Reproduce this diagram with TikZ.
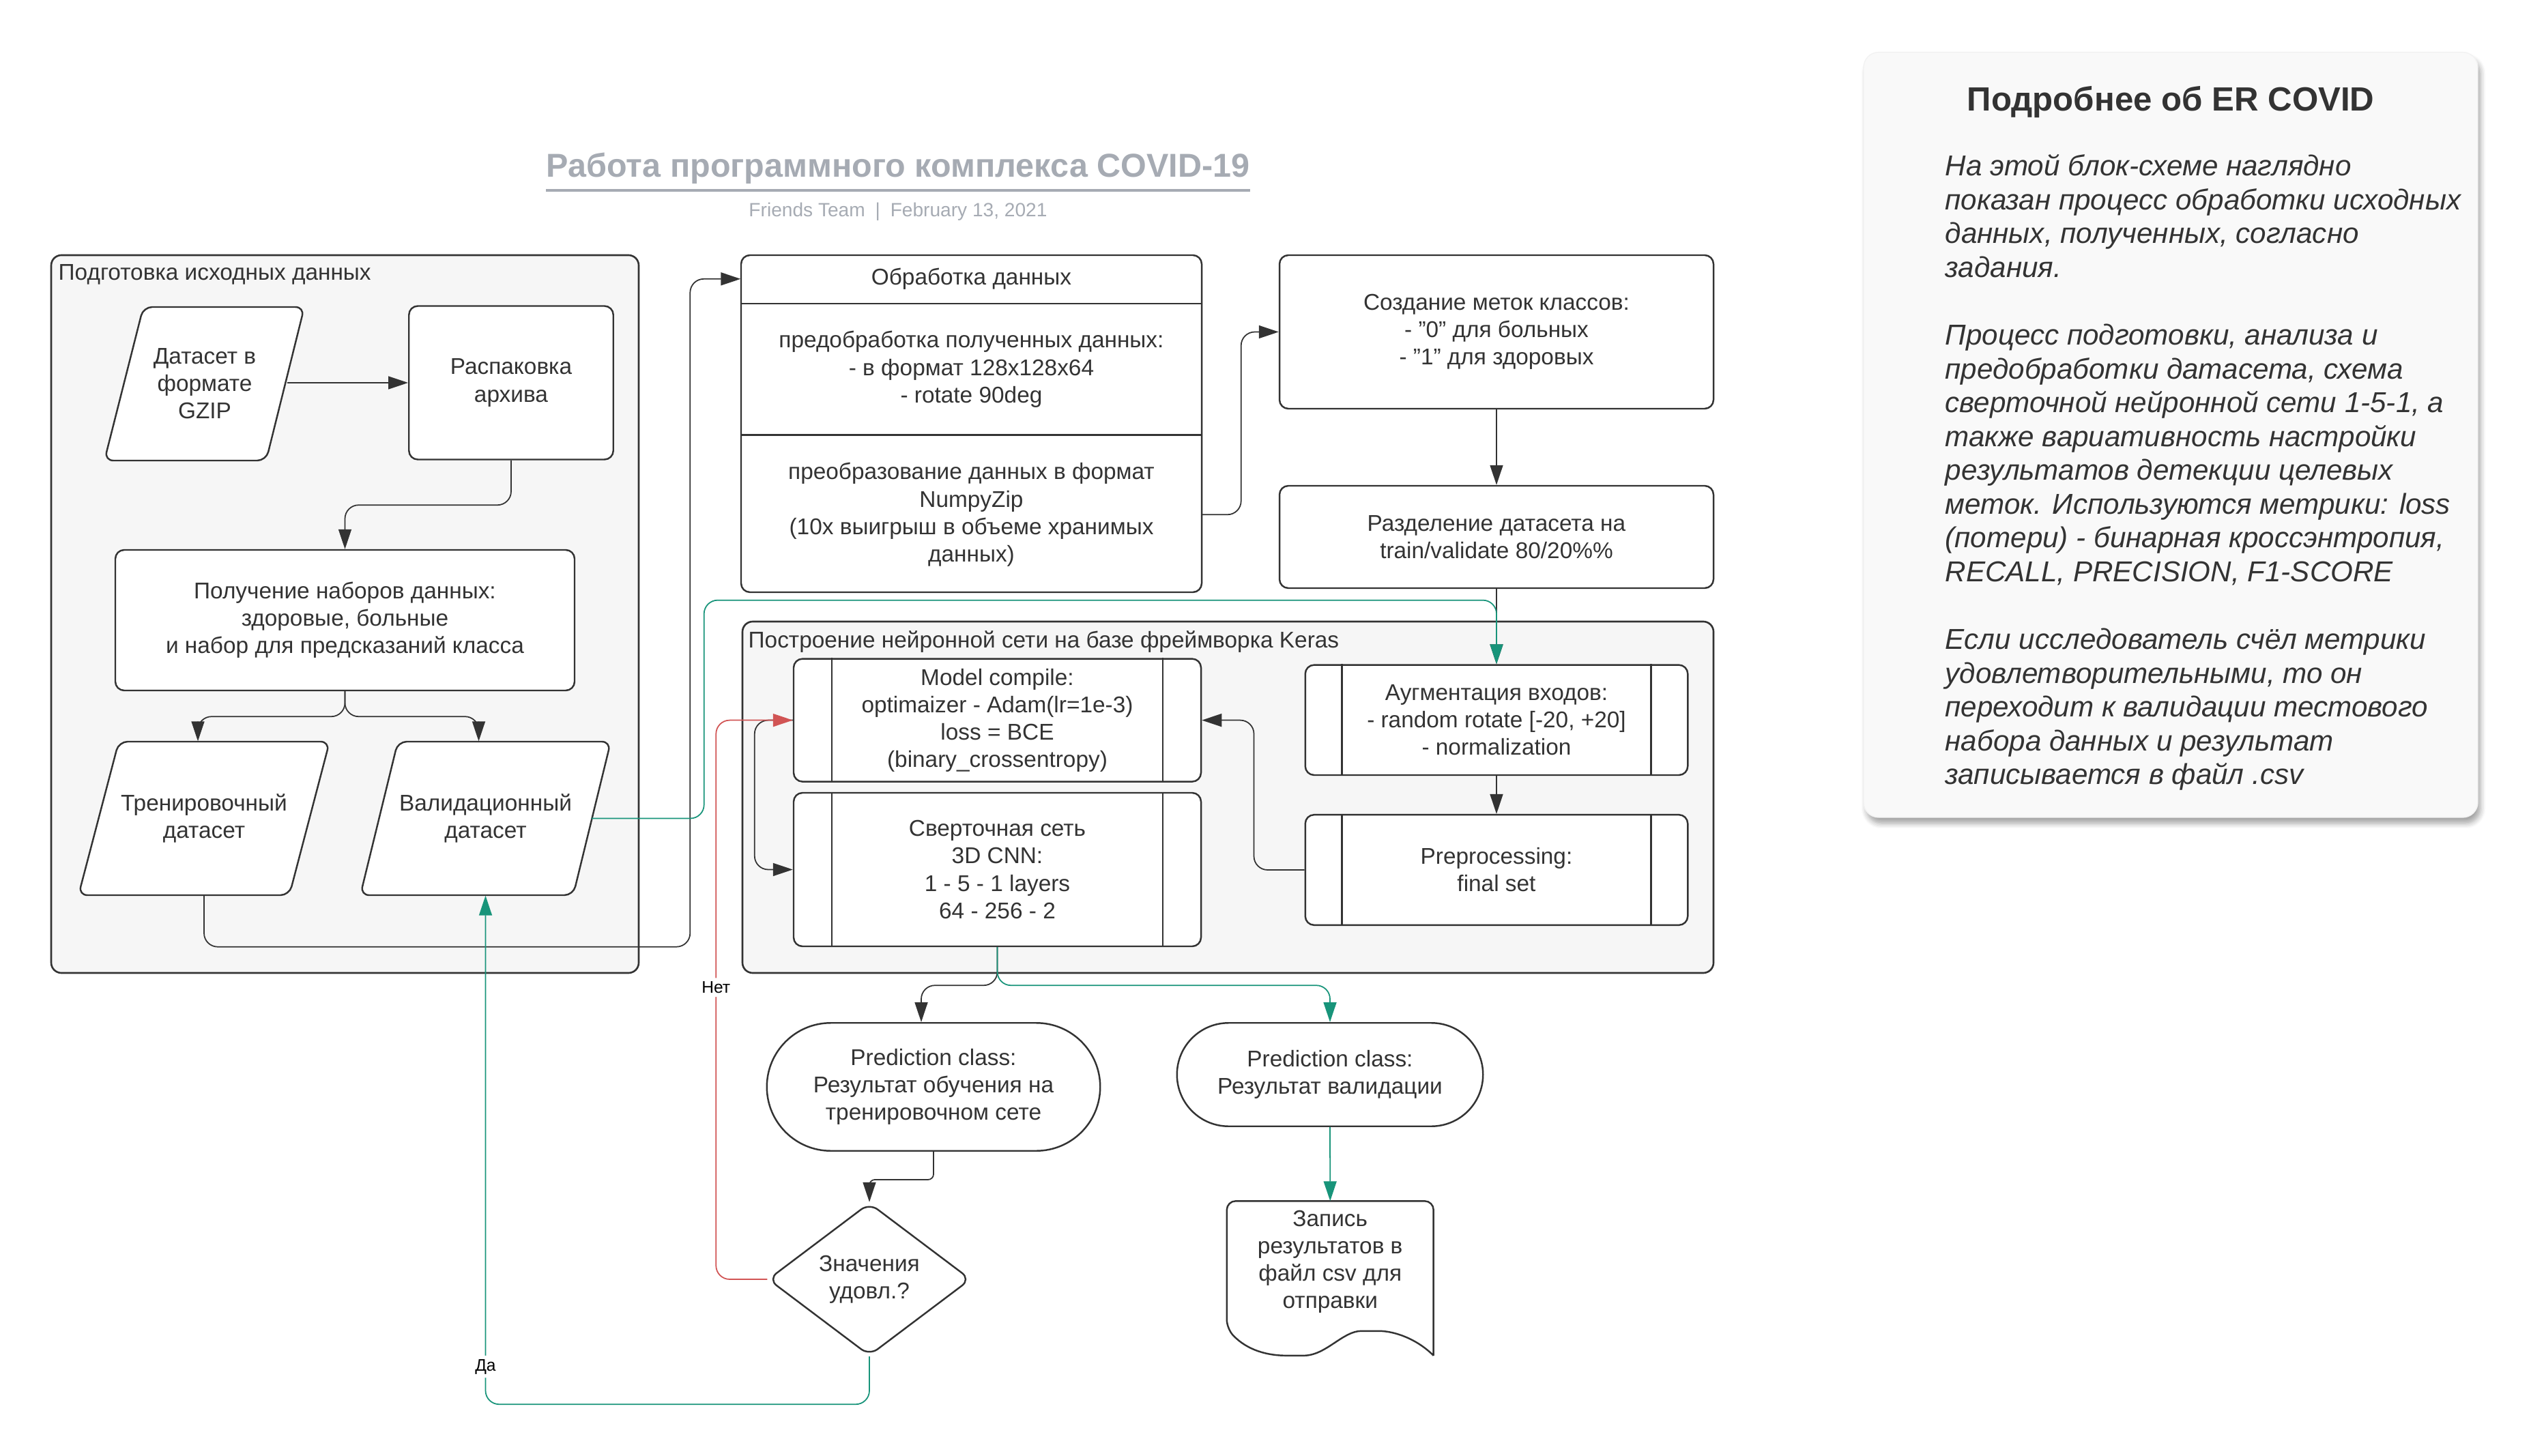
\documentclass[tikz,border=0pt]{standalone}
\usepackage{fontspec}
\setmainfont{Liberation Sans}
\usetikzlibrary{positioning, arrows.meta, shapes.geometric, shapes.misc, shadows.blur}
\definecolor{ink}{HTML}{333333}
\definecolor{lanegray}{HTML}{F6F6F6}
\definecolor{panelgray}{HTML}{F9F9F9}
\definecolor{titlegray}{HTML}{A6ABB3}
\definecolor{flowteal}{RGB}{24,148,122}
\definecolor{flowred}{RGB}{209,84,84}
\newcommand{\boxfont}{\fontsize{9.5}{11.4}\selectfont}

\begin{document}
\begin{tikzpicture}[
    lane/.style={draw=ink, line width=0.75pt, fill=lanegray, rounded corners=1.5mm, inner sep=0pt},
    lanelbl/.style={font=\boxfont, text=ink, inner sep=0pt, anchor=base west},
    stepbox/.style={draw=ink, line width=0.7pt, fill=white, rounded corners=1.3mm,
        align=center, font=\boxfont, text=ink, inner sep=0pt},
    txtbox/.style={align=center, font=\boxfont, text=ink, inner sep=0pt},
    pgram/.style={draw=ink, line width=0.7pt, fill=white, rounded corners=1.3mm},
    termbox/.style={draw=ink, line width=0.7pt, fill=white, rounded rectangle,
        align=center, font=\boxfont, text=ink, inner sep=0pt},
    decbox/.style={draw=ink, line width=0.7pt, fill=white, diamond, aspect=1.33,
        rounded corners=1.5mm, align=center, font=\boxfont, text=ink, inner sep=0pt},
    subline/.style={draw=ink, line width=0.7pt},
    flow/.style={draw=ink, line width=0.5pt, rounded corners=2mm,
        -{Triangle[length=2.9mm, width=1.9mm]}},
    tealflow/.style={flow, draw=flowteal},
    redflow/.style={flow, draw=flowred},
    yesno/.style={font=\fontsize{7}{8.4}\selectfont, text=black, fill=white, inner sep=1.5pt}
]
\useasboundingbox (0,0) rectangle (37.09,-21.34);

% Title
\node[font=\fontsize{13.8}{16}\selectfont\bfseries, text=titlegray, inner sep=0pt, anchor=base]
    (title) at (13.16,-2.60) {Работа программного комплекса COVID-19};
\draw[titlegray, line width=1.1pt]
    ([yshift=-0.19cm]title.base west) -- ([yshift=-0.19cm]title.base east);
\node[font=\fontsize{8}{10}\selectfont, text=titlegray, inner sep=0pt, anchor=base]
    (subtitle) at (13.16,-3.18) {Friends Team \hspace{2pt}|\hspace{2pt} February 13, 2021};

% Source data lane
\node[lane, minimum width=8.61cm, minimum height=10.52cm] (prepcont) at (5.055,-9.0) {};
\node[lanelbl] (preplbl) at (0.85,-4.11) {Подготовка исходных данных};

\draw[pgram] (1.53,-6.75) -- (3.90,-6.75) -- (4.46,-4.50) -- (2.10,-4.50) -- cycle;
\node[txtbox, minimum width=2.93cm, minimum height=2.25cm] (dsgzip) at (3.0,-5.625)
    {Датасет в\\формате\\GZIP};
\node[stepbox, minimum width=2.995cm, minimum height=2.25cm] (unpack) at (7.49,-5.61)
    {Распаковка\\архива};
\node[stepbox, minimum width=6.73cm, minimum height=2.06cm] (getdata) at (5.055,-9.09)
    {Получение наборов данных:\\здоровые, больные\\и набор для предсказаний класса};

\draw[pgram] (1.15,-13.12) -- (4.24,-13.12) -- (4.83,-10.87) -- (1.74,-10.87) -- cycle;
\node[txtbox, minimum width=3.68cm, minimum height=2.25cm] (train) at (2.99,-11.995)
    {Тренировочный\\датасет};
\draw[pgram] (5.28,-13.12) -- (8.40,-13.12) -- (8.95,-10.87) -- (5.83,-10.87) -- cycle;
\node[txtbox, minimum width=3.67cm, minimum height=2.25cm] (val) at (7.115,-11.995)
    {Валидационный\\датасет};

% Data processing
\node[stepbox, minimum width=6.75cm, minimum height=4.94cm] (procframe) at (14.235,-6.21) {};
\node[txtbox, minimum width=6.75cm, minimum height=0.707cm, anchor=north] (prochead)
    at (procframe.north) {Обработка данных};
\node[txtbox, minimum width=6.75cm, minimum height=1.913cm, below=0pt of prochead] (procprep)
    {предобработка полученных данных:\\- в формат 128x128x64\\- rotate 90deg};
\node[txtbox, minimum width=6.75cm, minimum height=2.32cm, below=0pt of procprep] (procconv)
    {преобразование данных в формат\\NumpyZip\\(10x выигрыш в объеме хранимых\\данных)};
\draw[subline] (prochead.south west) -- (prochead.south east);
\draw[subline] (procprep.south west) -- (procprep.south east);

\node[stepbox, minimum width=6.36cm, minimum height=2.25cm] (labels) at (21.93,-4.865)
    {Создание меток классов:\\- "0" для больных\\- "1" для здоровых};
\node[stepbox, minimum width=6.36cm, minimum height=1.50cm] (split) at (21.93,-7.87)
    {Разделение датасета на\\train/validate 80/20\%\%};

% Keras lane
\node[lane, minimum width=14.23cm, minimum height=5.15cm] (keras) at (17.995,-11.685) {};
\node[lanelbl] (keraslbl) at (10.96,-9.49) {Построение нейронной сети на базе фреймворка Keras};

\node[stepbox, minimum width=5.97cm, minimum height=1.80cm] (compile) at (14.615,-10.556)
    {Model compile:\\optimaizer - Adam(lr=1e-3)\\loss = BCE\\(binary\_crossentropy)};
\node[stepbox, minimum width=5.97cm, minimum height=2.25cm] (cnn) at (14.615,-12.745)
    {Сверточная сеть\\3D CNN:\\1 - 5 - 1 layers\\64 - 256 - 2};
\node[stepbox, minimum width=5.605cm, minimum height=1.614cm] (augm) at (21.93,-10.553)
    {Аугментация входов:\\- random rotate [-20, +20]\\- normalization};
\node[stepbox, minimum width=5.605cm, minimum height=1.617cm] (prep) at (21.93,-12.75)
    {Preprocessing:\\final set};
\draw[subline] ([xshift=0.57cm]compile.north west) -- ([xshift=0.57cm]compile.south west);
\draw[subline] ([xshift=-0.57cm]compile.north east) -- ([xshift=-0.57cm]compile.south east);
\draw[subline] ([xshift=0.57cm]cnn.north west) -- ([xshift=0.57cm]cnn.south west);
\draw[subline] ([xshift=-0.57cm]cnn.north east) -- ([xshift=-0.57cm]cnn.south east);
\draw[subline] ([xshift=0.55cm]augm.north west) -- ([xshift=0.55cm]augm.south west);
\draw[subline] ([xshift=-0.55cm]augm.north east) -- ([xshift=-0.55cm]augm.south east);
\draw[subline] ([xshift=0.55cm]prep.north west) -- ([xshift=0.55cm]prep.south west);
\draw[subline] ([xshift=-0.55cm]prep.north east) -- ([xshift=-0.55cm]prep.south east);

% Results
\node[termbox, minimum width=4.885cm, minimum height=1.875cm] (pred1) at (13.68,-15.93)
    {Prediction class:\\Результат обучения на\\тренировочном сете};
\node[termbox, minimum width=4.485cm, minimum height=1.515cm] (pred2) at (19.49,-15.75)
    {Prediction class:\\Результат валидации};
\node[decbox, minimum width=2.97cm, minimum height=2.24cm] (decision) at (12.74,-18.75)
    {Значения\\удовл.?};
\node[txtbox, minimum width=3.015cm, minimum height=1.76cm] (doc) at (19.4925,-18.49)
    {Запись\\результатов в\\файл csv для\\отправки};
\draw[subline, rounded corners=1.3mm] ([yshift=-2.265cm]doc.north east) -- (doc.north east)
    -- (doc.north west) -- ([yshift=-1.87cm]doc.north west)
    .. controls +(0.3,-0.32) and +(-0.4,0) .. ([shift={(1.0,-2.265)}]doc.north west)
    .. controls +(0.45,0) and +(-0.4,0) .. ([shift={(2.1,-1.905)}]doc.north west)
    .. controls +(0.35,0) and +(-0.25,0.25) .. ([yshift=-2.265cm]doc.north east);

% Connectors
\draw[flow] ([xshift=-0.26cm]dsgzip.east |- unpack.west) -- (unpack.west);
\draw[flow] (unpack.south) -- ++(0,-0.655) -| (getdata.north);
\draw[flow] (getdata.south) -- ++(0,-0.37) -| ([xshift=-0.09cm]train.north);
\draw[flow] (getdata.south) -- ++(0,-0.37) -| ([xshift=-0.1cm]val.north);
\draw[flow] (train.south) -- ++(0,-0.75) -| ([xshift=-0.74cm]prochead.west) -- (prochead.west);
\draw[flow] (procconv.east) -- ++(0.57,0) |- (labels.west);
\draw[flow] (labels.south) -- (split.north);
\draw[flow] (split.south) -- (augm.north);
\draw[flow] (augm.south) -- (prep.north);
\draw[flow] (prep.west) -- ++(-0.74,0) |- (compile.east);
\draw[flow] (compile.west) -- ++(-0.56,0) |- (cnn.west);
\draw[flow] (cnn.south) -- ++(0,-0.56) -| ([xshift=-0.18cm]pred1.north);
\draw[flow, rounded corners=0.8mm] (pred1.south) -- ++(0,-0.41) -| (decision.north);

\draw[tealflow] ([xshift=-0.29cm]val.east) -- ++(1.65,0) |- ([yshift=0.3cm]keras.north)
    -| (augm.north);
\draw[tealflow] (cnn.south) -- ++(0,-0.56) -| (pred2.north);
\draw[tealflow] (pred2.south) -- (doc.north);
\draw[tealflow] (decision.south) -- ++(0,-0.70) -| node[yesno, pos=0.537] (yeslbl) {Да} (val.south);
\draw[redflow] (decision.west) -- ++(-0.75,0) |- node[yesno, pos=0.261] (nolbl) {Нет} (compile.west);

% Info panel
\node[fill=panelgray, draw=black!5, rounded corners=2.2mm, minimum width=9.0cm, minimum height=11.214cm,
    blur shadow={shadow xshift=0.04cm, shadow yshift=-0.09cm, shadow blur steps=6, shadow opacity=35}]
    (infopanel) at (31.81,-6.373) {};
\node[font=\fontsize{14}{16}\selectfont\bfseries, text=ink] (infohead) at (31.81,-1.50)
    {Подробнее об ER COVID};
\node[font=\fontsize{12}{14.1}\selectfont\itshape, text=ink, align=left, anchor=north west,
    inner sep=0pt] (infotext) at (28.50,-2.26)
    {На этой блок-схеме наглядно\\
     показан процесс обработки исходных\\
     данных, полученных, согласно\\
     задания.\\[14.1pt]
     Процесс подготовки, анализа и\\
     предобработки датасета, схема\\
     сверточной нейронной сети 1-5-1, а\\
     также вариативность настройки\\
     результатов детекции целевых\\
     меток. Используются метрики: loss\\
     (потери) - бинарная кроссэнтропия,\\
     RECALL, PRECISION, F1-SCORE\\[14.1pt]
     Если исследователь счёл метрики\\
     удовлетворительными, то он\\
     переходит к валидации тестового\\
     набора данных и результат\\
     записывается в файл .csv};

\end{tikzpicture}
\end{document}
